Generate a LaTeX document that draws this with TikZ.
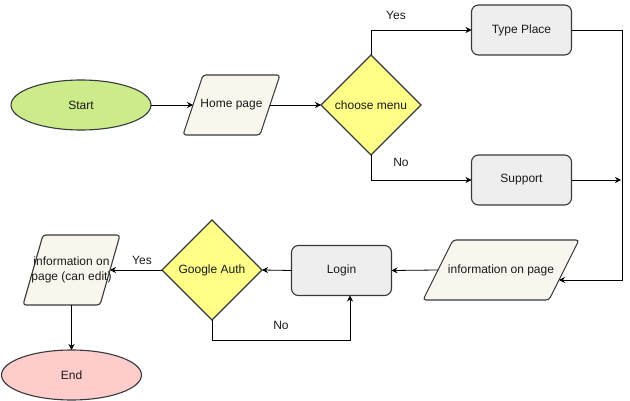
\documentclass[tikz,border=0pt]{standalone}
\usepackage{fontspec}
\setmainfont{Liberation Sans}
\usetikzlibrary{shapes.geometric,arrows.meta}
\definecolor{strk}{HTML}{36393D}
\definecolor{startfill}{HTML}{CDEB8B}
\definecolor{endfill}{HTML}{FFCCCC}
\definecolor{iofill}{HTML}{F9F7ED}
\definecolor{decfill}{HTML}{FFFF88}
\definecolor{procfill}{HTML}{EEEEEE}
\definecolor{txt}{HTML}{1A1A1A}
\begin{document}
\begin{tikzpicture}[x=1pt,y=-1pt,
  font=\fontsize{12pt}{15pt}\selectfont, text=txt,
  base/.style={draw=strk, line width=1.1pt, inner sep=1pt, outer sep=0pt},
  term/.style={base, ellipse, minimum width=140pt, minimum height=50pt},
  ioshape/.style={draw=strk, line width=1.1pt, fill=iofill, rounded corners=3pt},
  iotext/.style={inner sep=0pt, align=center},
  decbox/.style={base, diamond, aspect=1, fill=decfill, minimum width=100pt, minimum height=100pt},
  procbox/.style={base, rectangle, rounded corners=7pt, fill=procfill, minimum width=100pt, minimum height=50pt},
  arr/.style={draw=black, line width=0.8pt, -{Stealth[length=6pt,width=6pt,inset=2pt]}},
  lab/.style={inner sep=0pt}]
\useasboundingbox (0,0) rectangle (630,401);
% Start
\node[term, fill=startfill] (start) at (81,105) {Start};
% Home page (parallelogram)
\draw[ioshape] (183,135) -- (203,75) -- (280,75) -- (260,135) -- cycle;
\node[iotext] (home) at (231.5,105) {Home page};
\coordinate (homeL) at (193,105);
\coordinate (homeR) at (270,105);
% choose menu
\node[decbox] (choose) at (371,105) {choose menu};
\node[procbox] (tp) at (521.5,30) {Type Place};
\node[procbox] (sup) at (521.5,180) {Support};
% information on page
\draw[ioshape] (423,300) -- (453,240) -- (579,240) -- (549,300) -- cycle;
\node[iotext] (info) at (501,270) {information on page};
\coordinate (infoL) at (438,270);
\coordinate (infoR) at (559,280);
% Login, Google Auth
\node[procbox] (login) at (341.5,270.5) {Login};
\node[decbox] (gauth) at (212,270) {Google Auth};
% information on page (can edit)
\draw[ioshape] (23,305) -- (43,235) -- (120,235) -- (100,305) -- cycle;
\node[iotext, font=\fontsize{12pt}{15.5pt}\selectfont] (info2) at (71.5,270) {information on\\page (can edit)};
\coordinate (info2R) at (110,270);
\coordinate (info2B) at (71.5,305);
% End
\node[term, fill=endfill] (end) at (71.5,375) {End};

\node[lab] (yes1) at (396,15) {Yes};
\node[lab] (no1) at (401,162) {No};
\node[lab] (yes2) at (142,260) {Yes};
\node[lab] (no2) at (281,325) {No};

\coordinate (c1) at (622,280);
\coordinate (c2) at (621,180);
\coordinate (c4) at (350,340);

\draw[arr] (start) -- (homeL);
\draw[arr] (homeR) -- (choose);
\draw[arr] (choose.north) |- (tp.west);
\draw[arr] (choose.south) |- (sup.west);
\draw[arr] (tp.east) -| (c1) -- (infoR);
\draw[arr] (sup.east) -- (c2);
\draw[arr] (infoL) -- (login.east);
\draw[arr] (login.west) -- (gauth.east);
\draw[arr] (gauth.south) |- (c4) -- (c4 |- login.south);
\draw[arr] (gauth.west) -- (info2R);
\draw[arr] (info2B) -- (end.north);
\end{tikzpicture}
\end{document}
